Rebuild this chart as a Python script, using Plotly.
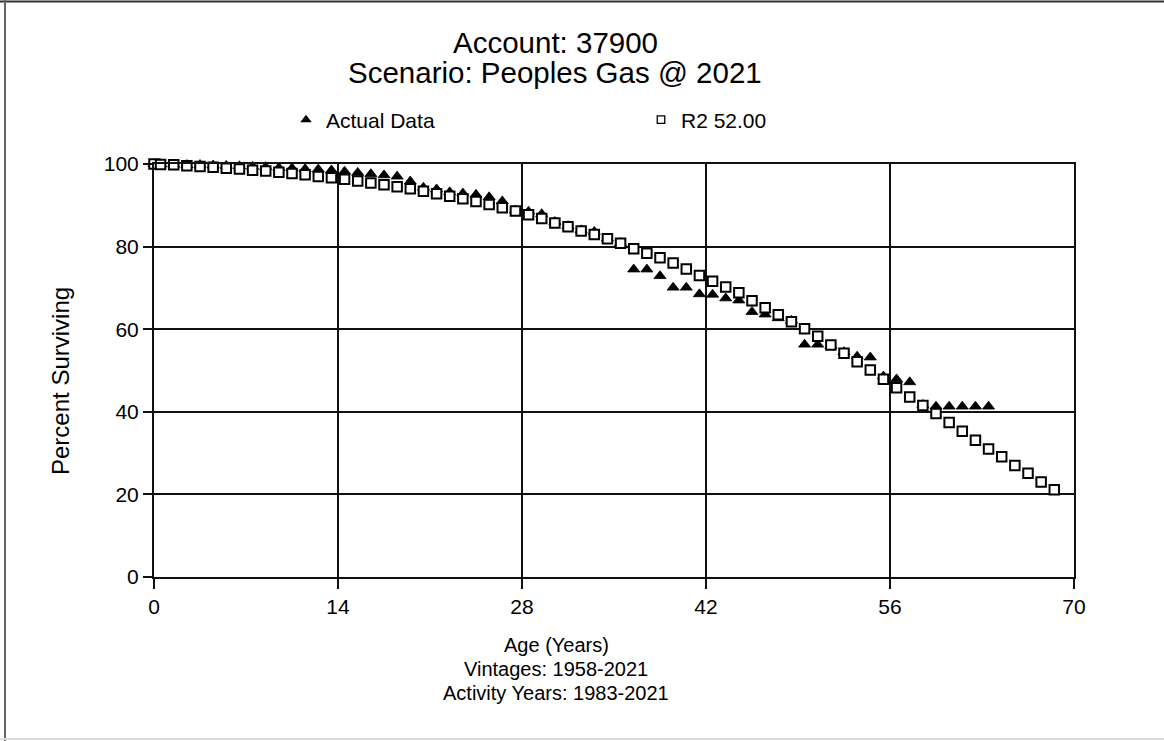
import plotly.graph_objects as go

# Survivor data: observed retirement experience and the fitted Iowa R2 curve
actual_age = [0, 0.5, 1.5, 2.5, 3.5, 4.5, 5.5, 6.5, 7.5, 8.5, 9.5, 10.5, 11.5, 12.5,
              13.5, 14.5, 15.5, 16.5, 17.5, 18.5, 19.5, 20.5, 21.5, 22.5, 23.5, 24.5,
              25.5, 26.5, 27.5, 28.5, 29.5, 30.5, 31.5, 32.5, 33.5, 34.5, 35.5, 36.5,
              37.5, 38.5, 39.5, 40.5, 41.5, 42.5, 43.5, 44.5, 45.5, 46.5, 47.5, 48.5,
              49.5, 50.5, 51.5, 52.5, 53.5, 54.5, 55.5, 56.5, 57.5, 58.5, 59.5, 60.5,
              61.5, 62.5, 63.5]
actual_pct = [100.0, 100.0, 99.9, 99.8, 99.8, 99.7, 99.6, 99.5, 99.4, 99.3, 99.1, 99.0,
              98.8, 98.7, 98.5, 98.2, 97.9, 97.6, 97.3, 97.0, 95.8, 94.3, 93.9, 93.2,
              92.9, 92.6, 92.0, 91.0, 88.8, 88.5, 87.9, 86.0, 85.0, 84.0, 83.6, 82.0,
              80.9, 74.5, 74.5, 72.9, 70.1, 70.1, 68.5, 68.4, 67.5, 67.0, 64.2, 63.6,
              62.7, 62.1, 56.3, 56.3, 56.0, 54.5, 53.4, 53.2, 48.6, 47.9, 47.2, 41.7,
              41.3, 41.3, 41.3, 41.3, 41.3]

curve_age = [0, 0.5, 1.5, 2.5, 3.5, 4.5, 5.5, 6.5, 7.5, 8.5, 9.5, 10.5, 11.5, 12.5,
             13.5, 14.5, 15.5, 16.5, 17.5, 18.5, 19.5, 20.5, 21.5, 22.5, 23.5, 24.5,
             25.5, 26.5, 27.5, 28.5, 29.5, 30.5, 31.5, 32.5, 33.5, 34.5, 35.5, 36.5,
             37.5, 38.5, 39.5, 40.5, 41.5, 42.5, 43.5, 44.5, 45.5, 46.5, 47.5, 48.5,
             49.5, 50.5, 51.5, 52.5, 53.5, 54.5, 55.5, 56.5, 57.5, 58.5, 59.5, 60.5,
             61.5, 62.5, 63.5, 64.5, 65.5, 66.5, 67.5, 68.5]
curve_pct = [100.0, 99.9, 99.8, 99.6, 99.4, 99.2, 99.0, 98.8, 98.5, 98.3, 98.0, 97.7,
             97.4, 97.0, 96.7, 96.3, 95.9, 95.4, 95.0, 94.5, 94.0, 93.4, 92.8, 92.2,
             91.6, 90.9, 90.2, 89.4, 88.6, 87.7, 86.8, 85.7, 84.8, 83.8, 82.9, 81.9,
             80.8, 79.5, 78.4, 77.3, 76.0, 74.6, 73.0, 71.6, 70.2, 68.8, 66.9, 65.2,
             63.5, 61.8, 60.1, 58.3, 56.2, 54.2, 52.1, 50.1, 47.9, 45.8, 43.6, 41.5,
             39.6, 37.4, 35.3, 33.1, 31.0, 29.1, 27.0, 25.1, 23.0, 21.1]

x_ticks = [0, 14, 28, 42, 56, 70]
y_ticks = [0, 20, 40, 60, 80, 100]

title_lines = ["Account: 37900", "Scenario: Peoples Gas @ 2021"]
x_title_lines = ["Age (Years)", "Vintages: 1958-2021", "Activity Years: 1983-2021"]
y_title = "Percent Surviving"
actual_name = "Actual Data"
curve_name = "R2 52.00"

FONT = "Arial, 'Liberation Sans', sans-serif"
W, H = 1164, 741
L, R, T, B = 154, 90, 164, 164

fig = go.Figure()

# plotted markers (legend handled by small proxy entries)
fig.add_trace(go.Scatter(
    x=actual_age, y=actual_pct, mode="markers", showlegend=False, cliponaxis=False,
    marker=dict(symbol="triangle-up", size=10.5, color="black",
                line=dict(color="black", width=0.8))))
fig.add_trace(go.Scatter(
    x=curve_age, y=curve_pct, mode="markers", showlegend=False, cliponaxis=False,
    marker=dict(symbol="square", size=9.5, color="white",
                line=dict(color="black", width=2))))

# legend entries
fig.add_trace(go.Scatter(
    x=[None], y=[None], mode="markers", name=actual_name,
    marker=dict(symbol="triangle-up", size=10, color="black")))
fig.add_trace(go.Scatter(
    x=[None], y=[None], mode="markers", name=curve_name,
    marker=dict(symbol="square", size=7.5, color="white",
                line=dict(color="black", width=1.3))))

axis_common = dict(
    showline=True, linecolor="#111", linewidth=2, mirror=True,
    showgrid=True, gridcolor="#111", gridwidth=1.6, zeroline=False,
    ticks="outside", tickcolor="#111", tickwidth=1.6,
    tickfont=dict(family=FONT, size=21, color="black"),
)

fig.update_xaxes(range=[0, 70], tickvals=x_ticks, ticklen=10, **axis_common)
fig.update_yaxes(range=[0, 100], tickvals=y_ticks, ticklen=9, **axis_common)

pw, ph = W - L - R, H - T - B


def px_x(px):
    return (px - L) / pw


def px_y(py):
    return (H - B - py) / ph


annotations = []
for text, py in zip(title_lines, [42, 73]):
    annotations.append(dict(text=text, x=px_x(555), y=px_y(py), xref="paper", yref="paper",
                            showarrow=False, xanchor="center", yanchor="middle",
                            font=dict(family=FONT, size=29.5, color="black")))
for text, py in zip(x_title_lines, [645, 669, 693]):
    annotations.append(dict(text=text, x=px_x(556), y=px_y(py), xref="paper", yref="paper",
                            showarrow=False, xanchor="center", yanchor="middle",
                            font=dict(family=FONT, size=20, color="black")))
annotations.append(dict(text=y_title, x=px_x(60), y=px_y(381), xref="paper", yref="paper",
                        showarrow=False, textangle=-90, xanchor="center", yanchor="middle",
                        font=dict(family=FONT, size=24, color="black")))

# outer frame edges
shapes = [
    dict(type="line", xref="paper", yref="paper", x0=px_x(0), x1=px_x(W), y0=px_y(1.5), y1=px_y(1.5),
         line=dict(color="#333", width=2)),
    dict(type="line", xref="paper", yref="paper", x0=px_x(5), x1=px_x(5), y0=px_y(0), y1=px_y(H),
         line=dict(color="#666", width=2)),
    dict(type="line", xref="paper", yref="paper", x0=px_x(0), x1=px_x(W), y0=px_y(739), y1=px_y(739),
         line=dict(color="#ddd", width=2)),
]

fig.update_layout(
    width=W, height=H,
    margin=dict(l=L, r=R, t=T, b=B, pad=0),
    paper_bgcolor="white", plot_bgcolor="white",
    font=dict(family=FONT, color="black"),
    showlegend=True,
    legend=dict(orientation="h", xref="container", yref="container",
                x=286 / W, y=1 - 120 / H, xanchor="left", yanchor="middle",
                entrywidth=310, entrywidthmode="pixels",
                font=dict(family=FONT, size=21, color="black"),
                bgcolor="rgba(0,0,0,0)"),
    annotations=annotations,
    shapes=shapes,
)

fig.write_html("out.html")
